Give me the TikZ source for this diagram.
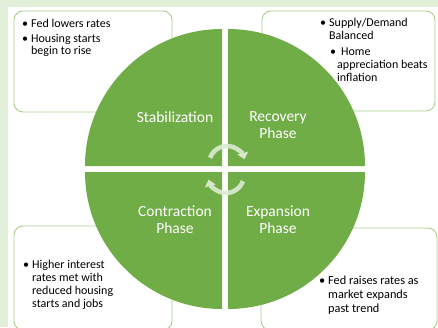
\documentclass[tikz,border=0pt]{standalone}
\usepackage{fontspec}
\setmainfont{Carlito}
\usetikzlibrary{arrows.meta}
\definecolor{bgreen}{HTML}{E2F0D9}
\definecolor{pgreen}{HTML}{70AD47}
\definecolor{lgreen}{HTML}{A9D18E}
\definecolor{agreen}{HTML}{DCEBD2}
\tikzset{
  quad/.style={fill=pgreen},
  infobox/.style={draw=lgreen, line width=0.9pt, fill=white, rounded corners=9pt},
  txt/.style={inner sep=0pt, align=left, font=\fontsize{12}{12.5}\selectfont, text=black},
  lbl/.style={inner sep=0pt, align=center, font=\fontsize{15.5}{17}\selectfont, text=white},
  cyc/.style={draw=agreen, line width=4.5pt, opacity=0.9, -{Triangle[width=11pt,length=6.5pt]}},
}
\newcommand{\bul}{\makebox[9pt][l]{\textbullet}}
\begin{document}
\begin{tikzpicture}[x=1pt,y=1pt]
\useasboundingbox (0,0) rectangle (438,327);
\fill[bgreen] (0,0) rectangle (438,327);
\fill[white] (8,0) rectangle (438,320);
% boxes
\draw[infobox] (14,215) rectangle (172,316);
\draw[infobox] (262,216) rectangle (435,316);
\draw[infobox] (14,-3) rectangle (172,101);
\draw[infobox] (261,-3) rectangle (437,99);
% quadrants
\fill[quad] (222,161) -- ++(180:137) arc (180:90:137) -- cycle;
\fill[quad] (228,161) -- ++(90:137) arc (90:0:137) -- cycle;
\fill[quad] (222,155) -- ++(180:137) arc (180:270:137) -- cycle;
\fill[quad] (228,155) -- ++(0:137) arc (0:-90:137) -- cycle;
% cycle arrows
\coordinate (ca) at (227,163);
\coordinate (cb) at (226,152);
\draw[cyc] ([shift={(160:18)}]ca) arc (160:15:18);
\draw[cyc] ([shift={(-20:18)}]cb) arc (-20:-165:18);
% labels
\node[lbl] (stab) at (175,210) {Stabilization};
\node[lbl] (reco) at (278,202) {Recovery\\Phase};
\node[lbl] (cont) at (175,107) {Contraction\\Phase};
\node[lbl] (expa) at (278,107) {Expansion\\Phase};
% texts
\node[txt, anchor=base west] (t1) at (22,272) {\bul Fed lowers rates\\[2.5pt]\bul Housing starts\\\hspace*{9pt}begin to rise};
\node[txt, anchor=base west, font=\fontsize{12}{13}\selectfont] (t2) at (320,245) {\bul Supply/Demand\\\hspace*{9pt}Balanced\\[3pt]\hspace*{10pt}\makebox[11pt][l]{\textbullet}Home\\\hspace*{17pt}appreciation beats\\\hspace*{17pt}inflation};
\node[txt, anchor=base west, font=\fontsize{12}{12.7}\selectfont] (t3) at (23,20) {\bul Higher interest\\\hspace*{9pt}rates met with\\\hspace*{9pt}reduced housing\\\hspace*{9pt}starts and jobs};
\node[txt, anchor=base west, font=\fontsize{12.3}{14}\selectfont] (t4) at (319,15) {\bul Fed raises rates as\\\hspace*{9pt}market expands\\\hspace*{9pt}past trend};
\end{tikzpicture}
\end{document}
